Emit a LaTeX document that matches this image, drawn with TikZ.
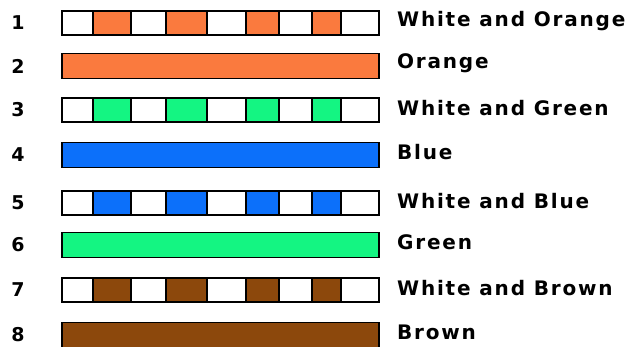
\documentclass[tikz,border=0pt]{standalone}
\usepackage{fontspec}
\setmainfont{DejaVu Sans}
\newfontfamily\widefont{DejaVu Sans}[LetterSpace=9]
\usepackage{tikz}
\definecolor{wireorange}{RGB}{250,122,62}
\definecolor{wiregreen}{RGB}{20,245,130}
\definecolor{wireblue}{RGB}{12,112,250}
\definecolor{wirebrown}{RGB}{140,72,12}
\tikzset{
  wirebar/.style  = {draw=black,line width=1.3pt},
  pinnum/.style   = {font=\bfseries\fontsize{19}{19}\selectfont,anchor=center},
  wirelabel/.style= {font=\widefont\bfseries\fontsize{20}{20}\selectfont,anchor=west,inner sep=0pt}
}
\begin{document}
\begin{tikzpicture}[x=1pt,y=-1pt]
  \useasboundingbox (0,0) rectangle (631,347);
  \clip (0,0) rectangle (631,347);
  % striped pairs: white with colour bands
  \foreach \row/\yc/\col/\txt in {1/23/wireorange/White and Orange,
                                  3/110/wiregreen/White and Green,
                                  5/203/wireblue/White and Blue,
                                  7/290/wirebrown/White and Brown}{
    \fill[white] (62,\yc-12) rectangle (379,\yc+12);
    \foreach \a/\b in {93/131,166/207,246/279,312/341}
      \fill[\col] (\a,\yc-12) rectangle (\b,\yc+12);
    \foreach \a in {93,131,166,207,246,279,312,341}
      \draw[black,line width=1.1pt] (\a,\yc-12) -- (\a,\yc+12);
    \node[wirebar,minimum width=317pt,minimum height=24pt,inner sep=0pt]
         (b\row) at (220.5,\yc) {};
    \node[pinnum] (n\row) at (18,\yc) {\row};
    \node[wirelabel] (l\row) at (397,\yc-2) {\txt};
  }
  % solid wires
  \foreach \row/\yc/\col/\txt in {2/66/wireorange/Orange,
                                  4/155/wireblue/Blue,
                                  6/245/wiregreen/Green,
                                  8/335/wirebrown/Brown}{
    \node[wirebar,fill=\col,minimum width=317pt,minimum height=25pt,inner sep=0pt]
         (b\row) at (220.5,\yc) {};
    \node[pinnum] (n\row) at (18,\yc) {\row};
    \node[wirelabel] (l\row) at (397,\yc-3) {\txt};
  }
\end{tikzpicture}
\end{document}
